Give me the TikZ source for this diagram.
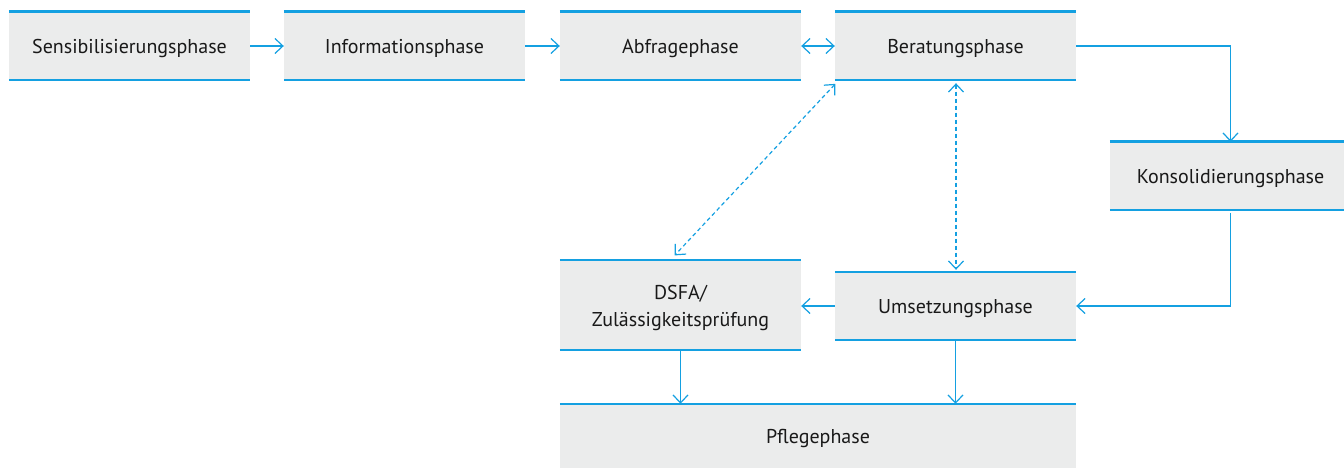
\documentclass[tikz,border=0pt]{standalone}
\usepackage{fontspec}
\setmainfont{PT Sans}
\usetikzlibrary{arrows.meta}
\definecolor{phaseblue}{RGB}{20,160,225}
\definecolor{phasegray}{RGB}{235,236,236}
\definecolor{phasetext}{RGB}{25,25,25}
\tikzstyle{phase}=[fill=phasegray,text=phasetext,minimum width=241pt,minimum height=68pt,inner sep=0pt,align=center,font=\fontsize{20}{27}\selectfont]
\tikzstyle{one line}=[text height=19pt,text depth=4pt]
\tikzstyle{top rule}=[draw=phaseblue,line width=2.6pt]
\tikzstyle{bottom rule}=[draw=phaseblue,line width=1.7pt]
\tikzstyle{edge}=[draw=phaseblue,line width=1.2pt,-{Straight Barb[length=8pt,width=15pt]}]
\tikzstyle{both}=[{Straight Barb[length=8pt,width=15pt]}-{Straight Barb[length=8pt,width=15pt]}]
\tikzstyle{link}=[edge,both,dash pattern=on 4pt off 3pt]

\begin{document}
\begin{tikzpicture}[x=1pt,y=-1pt]
	\useasboundingbox (0,0) rectangle (1344,468);

	% First we draw the phases
	\foreach \pos/\name/\text in {{(129.5,46)/sens/Sensibilisierungsphase}, {(404.5,46)/info/Informationsphase},
		{(680.5,46)/abfrage/Abfragephase}, {(955.5,46)/berat/Beratungsphase}, {(955.5,306)/umsetz/Umsetzungsphase}}
	\node[phase,one line] (\name) at \pos {\text};
	\node[phase,one line] (konsol) at (1230.5,176) {Konsolidierungsphase};
	\node[phase,minimum height=90pt,text height=48pt,text depth=4.5pt] (dsfa) at (680.5,305) {DSFA/\\Zulässigkeitsprüfung};
	\node[phase,one line,minimum width=516pt,minimum height=64pt] (pflege) at (818,436) {Pflegephase};

	% Blue rules above and below
	\foreach \name in {sens,info,abfrage,berat,konsol,dsfa,umsetz,pflege}
	\path[top rule] (\name.north west) -- (\name.north east);
	\foreach \name in {sens,info,abfrage,berat,konsol,dsfa,umsetz}
	\path[bottom rule] (\name.south west) -- (\name.south east);

	% Connect phases with arrows
	\foreach \source/\dest in {sens/info, info/abfrage}
	\path[edge] (\source) -- (\dest);
	\path[edge] (umsetz.west) -- (dsfa.east |- umsetz.west);
	\path[edge,both] (abfrage) -- (berat);
	\path[edge] (berat.east) -| (konsol.north);
	\path[edge,shorten <=3pt] (konsol.south) |- (umsetz.east);
	\foreach \name in {dsfa,umsetz}
	\path[edge] (\name.south) -- (\name.south |- pflege.north);

	% Dashed links back to Beratungsphase
	\path[link,shorten <=3pt,shorten >=2pt] ([xshift=0.5pt]berat.south) -- ([xshift=0.5pt]umsetz.north);
	\path[link,shorten <=5pt,shorten >=6pt] ([xshift=4pt]berat.south west) -- ([xshift=-10pt]dsfa.north);
\end{tikzpicture}
\end{document}
